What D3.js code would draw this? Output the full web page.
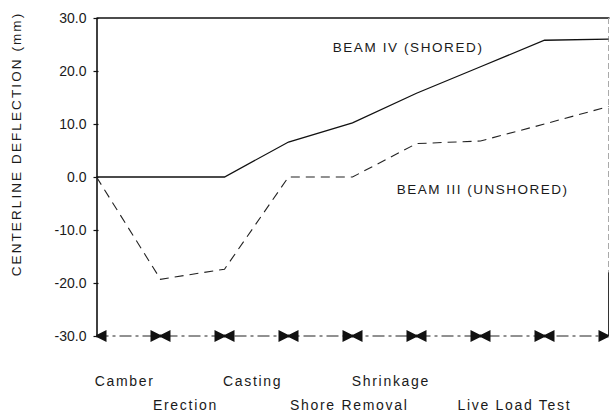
<!DOCTYPE html>
<html><head><meta charset="utf-8">
<script src="https://cdnjs.cloudflare.com/ajax/libs/d3/7.8.5/d3.min.js"></script>
<style>
html,body{margin:0;padding:0;background:#fff;}
svg{display:block;}
text{font-family:"Liberation Sans",Arial,sans-serif;fill:#1a1a1a;}
</style></head>
<body><div id="chart"></div>
<script>
// ---- data ----
const stages = [0,1,2,3,4,5,6,7,8];
const beamIV  = [0, 0, 0, 6.6, 10.2, 15.8, 20.8, 25.8, 26.0];
const beamIII = [0, -19.3, -17.4, 0, 0, 6.3, 6.8, 10.0, 13.3];
const seriesNames = ["BEAM IV (SHORED)", "BEAM III (UNSHORED)"];
const stageLabels = ["Camber", "Erection", "Casting", "Shore Removal", "Shrinkage", "Live Load Test"];
const stageLabelAt = [0.44, 1.39, 2.44, 3.95, 4.6, 6.53];
const stageLabelRow = [0, 1, 0, 1, 0, 1];
const yTicks = [30, 20, 10, 0, -10, -20, -30];
const yTickLabels = ["30.0", "20.0", "10.0", "0.0", "-10.0", "-20.0", "-30.0"];
const yTitle = "CENTERLINE DEFLECTION (mm)";

// ---- layout ----
const W = 611, H = 416;
const x = d3.scaleLinear().domain([0, 8]).range([96.5, 608.5]);
const y = d3.scaleLinear().domain([-30, 30]).range([336, 18]);

const svg = d3.select("#chart").append("svg").attr("width", W).attr("height", H);

svg.append("defs").append("clipPath").attr("id", "plotclip")
  .append("rect").attr("x", x(0)).attr("y", 0).attr("width", x(8) - x(0)).attr("height", H);

// frame: top line, right line
svg.append("line").attr("x1", x(0)).attr("x2", x(8) + 1).attr("y1", y(30)).attr("y2", y(30))
  .attr("stroke", "#111").attr("stroke-width", 1.6);
svg.append("line").attr("x1", x(8)).attr("x2", x(8)).attr("y1", y(30)).attr("y2", y(-30))
  .attr("stroke", "#aaa").attr("stroke-width", 1).attr("stroke-dasharray", "6,3");
svg.append("line").attr("x1", x(8)).attr("x2", x(8)).attr("y1", y(-18)).attr("y2", y(-30))
  .attr("stroke", "#333").attr("stroke-width", 1);

// bottom axis line (dash-dot)
svg.append("line").attr("x1", x(0)).attr("x2", x(8)).attr("y1", y(-30)).attr("y2", y(-30))
  .attr("stroke", "#222").attr("stroke-width", 1).attr("stroke-dasharray", "12,4,3,4");

// left axis
const yAxis = d3.axisLeft(y).tickValues(yTicks)
  .tickFormat((d, i) => yTickLabels[i]).tickSizeInner(3).tickSizeOuter(0).tickPadding(7);
const gy = svg.append("g").attr("transform", `translate(${x(0)},0)`).call(yAxis);
gy.select(".domain").attr("stroke", "#111").attr("stroke-width", 1.6);
gy.selectAll(".tick line").attr("stroke", "#111").attr("stroke-width", 1.2).attr("x2", -3).attr("x1", 2);
gy.selectAll(".tick text").attr("font-size", 14).attr("fill", "#1a1a1a")
  .style("font-family", '"Liberation Sans",Arial,sans-serif');

// y title
svg.append("text").attr("transform", `translate(21,${144}) rotate(-90)`)
  .attr("text-anchor", "middle").attr("font-size", 13.5).attr("letter-spacing", 2.1)
  .text(yTitle);

// series lines
const line = d3.line().x((d, i) => x(stages[i])).y(d => y(d));
svg.append("path").datum(beamIV).attr("d", line).attr("fill", "none")
  .attr("stroke", "#111").attr("stroke-width", 1.3);
svg.append("path").datum(beamIII).attr("d", line).attr("fill", "none")
  .attr("stroke", "#222").attr("stroke-width", 1.1).attr("stroke-dasharray", "9,6");

// bowtie markers at y = -30
const bow = "M-10,-6L-1,-1.5L1,-1.5L10,-6L10,6L1,1.5L-1,1.5L-10,6Z";
svg.append("g").attr("clip-path", "url(#plotclip)")
  .selectAll("path").data(stages).join("path")
  .attr("transform", d => `translate(${x(d)},${y(-30)})`)
  .attr("d", bow).attr("fill", "#111");

// series labels
svg.append("text").attr("x", x(3.69)).attr("y", y(23.5)).attr("font-size", 13.5)
  .attr("letter-spacing", 1.6).text(seriesNames[0]);
svg.append("text").attr("x", x(4.69)).attr("y", y(-3.3)).attr("font-size", 13.5)
  .attr("letter-spacing", 1.5).text(seriesNames[1]);

// stage labels
svg.append("g").selectAll("text").data(stageLabels).join("text")
  .attr("x", (d, i) => x(stageLabelAt[i]))
  .attr("y", (d, i) => stageLabelRow[i] === 0 ? 386 : 410)
  .attr("text-anchor", "middle").attr("font-size", 14).attr("letter-spacing", 1.7)
  .text(d => d);
</script></body></html>
